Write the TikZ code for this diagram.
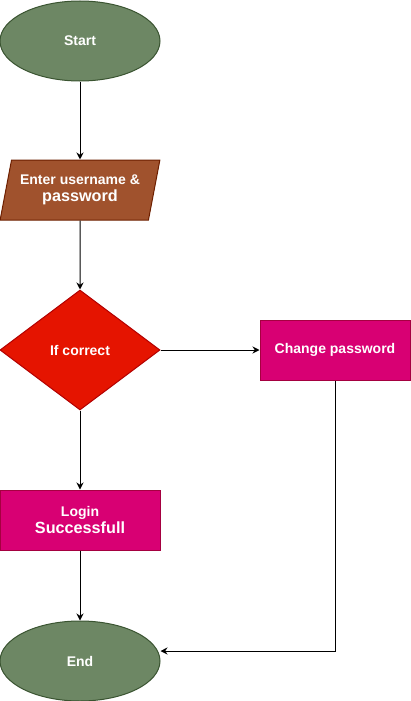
\documentclass[tikz,border=0pt]{standalone}
\usepackage{fontspec}
\setmainfont{Liberation Sans}
\usetikzlibrary{shapes.geometric,arrows.meta}

\definecolor{termfill}{HTML}{6D8764}
\definecolor{termdraw}{HTML}{3A5431}
\definecolor{iofill}{HTML}{A0522D}
\definecolor{iodraw}{HTML}{6D1F00}
\definecolor{decfill}{HTML}{E51400}
\definecolor{decdraw}{HTML}{B20000}
\definecolor{procfill}{HTML}{D80073}
\definecolor{procdraw}{HTML}{A50040}

\newcommand{\bigline}[1]{{\fontsize{16.2}{19}\selectfont #1}}

\tikzset{
    base/.style={text=white, font=\bfseries\fontsize{14}{17}\selectfont,
        align=center, inner sep=0pt, line width=1pt},
    terminal/.style={base, ellipse, fill=termfill, draw=termdraw,
        minimum width=160, minimum height=80},
    inout/.style={base, trapezium, trapezium left angle=71.6,
        trapezium right angle=108.4, trapezium stretches=true,
        fill=iofill, draw=iodraw, minimum width=160, minimum height=60},
    decision/.style={base, diamond, aspect=1.333, fill=decfill, draw=decdraw,
        minimum width=160, minimum height=120},
    process/.style={base, rectangle, fill=procfill, draw=procdraw,
        minimum height=60},
    flow/.style={line width=1pt, -{Stealth[length=7pt,width=7pt]}}
}

\begin{document}
\begin{tikzpicture}[x=1pt,y=-1pt]
    \useasboundingbox (0,0) rectangle (411,701);

    % boxes
    \node[terminal] (start) at (80,41) {Start};
    \node[inout] (input) at (80,190) {Enter username \&\\[0pt]\bigline{password}};
    \node[decision] (check) at (80,350) {If correct};
    \node[process, minimum width=150] (change) at (335,350) {Change password};
    \node[process, minimum width=160] (login) at (80,520) {Login\\[0pt]\bigline{Successfull}};
    \node[terminal] (end) at (80,661) {End};

    % arrows
    \draw[flow] (start) -- (input);
    \draw[flow] (input) -- (check);
    \draw[flow] (check) -- (change);
    \draw[flow] (check) -- (login);
    \draw[flow] (login) -- (end);
    \coordinate (turn) at (335,651);
    \draw[flow] (change.south) -- (turn) -- (end.east |- turn);

\end{tikzpicture}
\end{document}
